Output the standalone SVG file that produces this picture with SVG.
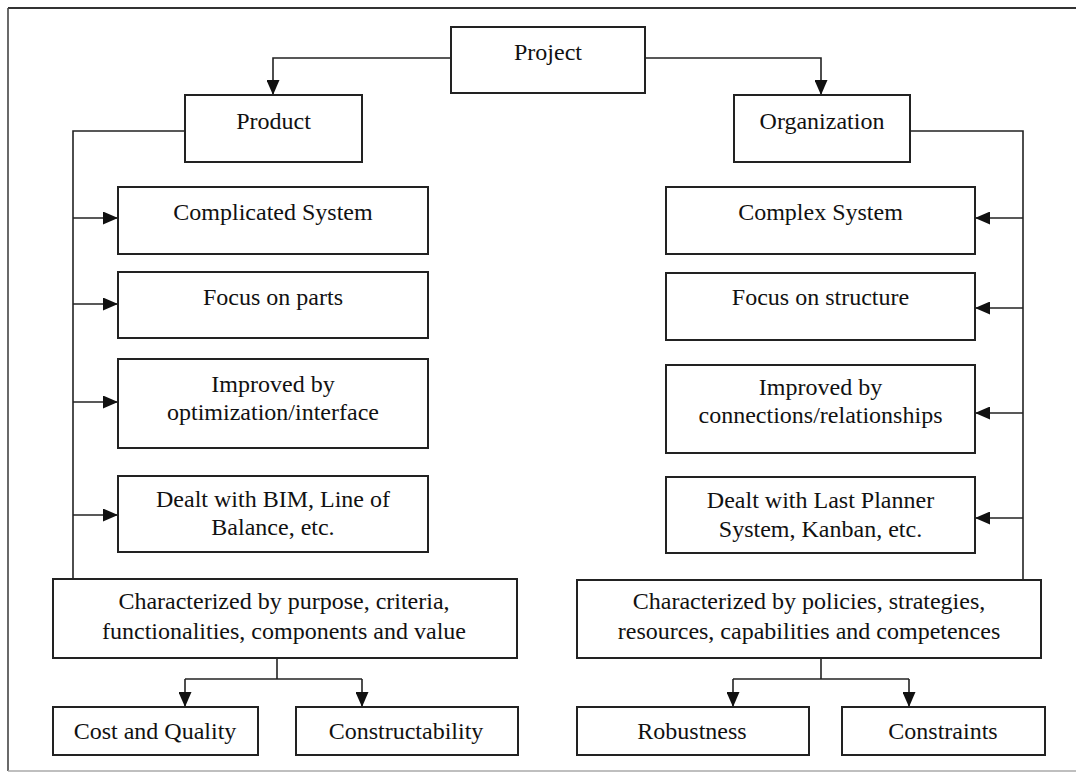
<svg xmlns="http://www.w3.org/2000/svg" width="1076" height="774" viewBox="0 0 1076 774">
  <defs>
    <marker id="ah" markerUnits="userSpaceOnUse" markerWidth="15" markerHeight="13" refX="15" refY="6.5" orient="auto">
      <path d="M0,0 L15,6.5 L0,13 z" fill="#111"/>
    </marker>
    <style>
      .box { fill: #fff; stroke: #222; stroke-width: 2; }
      .t { font-family: "Liberation Serif", "Times New Roman", serif; font-size: 24px; fill: #111; text-anchor: middle; }
      .ln { fill: none; stroke: #222; stroke-width: 1.6; }
      .arr { fill: none; stroke: #222; stroke-width: 1.6; marker-end: url(#ah); }
    </style>
  </defs>
  <rect x="0" y="0" width="1076" height="774" fill="#fff"/>
  <g id="frame">
    <line x1="8" y1="8" x2="1076" y2="8" stroke="#333" stroke-width="2"/>
    <line x1="8" y1="8" x2="8" y2="771" stroke="#444" stroke-width="1.6"/>
    <line x1="8" y1="771" x2="1076" y2="771" stroke="#aaa" stroke-width="1.6"/>
  </g>
  <g id="connectors">
    <path class="arr" d="M451,58 H273 V95"/>
    <path class="arr" d="M645,58 H821 V95"/>
    <path class="ln" d="M185,131 H73 V579"/>
    <path class="arr" d="M73,218 H118"/>
    <path class="arr" d="M73,304 H118"/>
    <path class="arr" d="M73,402 H118"/>
    <path class="arr" d="M73,515 H118"/>
    <path class="ln" d="M910,131 H1023 V580"/>
    <path class="arr" d="M1023,218 H975"/>
    <path class="arr" d="M1023,308 H975"/>
    <path class="arr" d="M1023,413 H975"/>
    <path class="arr" d="M1023,518 H975"/>
    <path class="ln" d="M277,658 V679"/>
    <path class="ln" d="M185,679 H362"/>
    <path class="arr" d="M185,679 V707"/>
    <path class="arr" d="M362,679 V707"/>
    <path class="ln" d="M821,658 V679"/>
    <path class="ln" d="M733,679 H909"/>
    <path class="arr" d="M733,679 V707"/>
    <path class="arr" d="M909,679 V707"/>
  </g>
  <g id="project"><rect class="box" x="451" y="27" width="194" height="66"/><text class="t" x="548" y="60">Project</text></g>
  <g id="product"><rect class="box" x="185" y="95" width="177" height="67"/><text class="t" x="273.5" y="129">Product</text></g>
  <g id="organization"><rect class="box" x="734" y="95" width="176" height="67"/><text class="t" x="822" y="129">Organization</text></g>
  <g id="complicated-system"><rect class="box" x="118" y="187" width="310" height="67"/><text class="t" x="273" y="220">Complicated System</text></g>
  <g id="focus-parts"><rect class="box" x="118" y="272" width="310" height="66"/><text class="t" x="273" y="305">Focus on parts</text></g>
  <g id="improved-optimization"><rect class="box" x="118" y="359" width="310" height="89"/><text class="t" x="273" y="392">Improved by</text><text class="t" x="273" y="420">optimization/interface</text></g>
  <g id="dealt-bim"><rect class="box" x="118" y="476" width="310" height="76"/><text class="t" x="273" y="507">Dealt with BIM, Line of</text><text class="t" x="273" y="535">Balance, etc.</text></g>
  <g id="complex-system"><rect class="box" x="666" y="187" width="309" height="67"/><text class="t" x="820.5" y="220">Complex System</text></g>
  <g id="focus-structure"><rect class="box" x="666" y="273" width="309" height="67"/><text class="t" x="820.5" y="305">Focus on structure</text></g>
  <g id="improved-connections"><rect class="box" x="666" y="365" width="309" height="88"/><text class="t" x="820.5" y="395">Improved by</text><text class="t" x="820.5" y="423">connections/relationships</text></g>
  <g id="dealt-lps"><rect class="box" x="666" y="477" width="309" height="76"/><text class="t" x="820.5" y="508">Dealt with Last Planner</text><text class="t" x="820.5" y="537">System, Kanban, etc.</text></g>
  <g id="char-product"><rect class="box" x="53" y="579" width="464" height="79"/><text class="t" x="284" y="609">Characterized by purpose, criteria,</text><text class="t" x="284" y="639">functionalities, components and value</text></g>
  <g id="char-organization"><rect class="box" x="577" y="580" width="464" height="78"/><text class="t" x="809" y="609">Characterized by policies, strategies,</text><text class="t" x="809" y="639">resources, capabilities and competences</text></g>
  <g id="cost-quality"><rect class="box" x="53" y="707" width="205" height="48"/><text class="t" x="155" y="739">Cost and Quality</text></g>
  <g id="constructability"><rect class="box" x="296" y="707" width="222" height="48"/><text class="t" x="406" y="739">Constructability</text></g>
  <g id="robustness"><rect class="box" x="577" y="707" width="232" height="48"/><text class="t" x="692" y="739">Robustness</text></g>
  <g id="constraints"><rect class="box" x="842" y="707" width="203" height="48"/><text class="t" x="943" y="739">Constraints</text></g>
</svg>
